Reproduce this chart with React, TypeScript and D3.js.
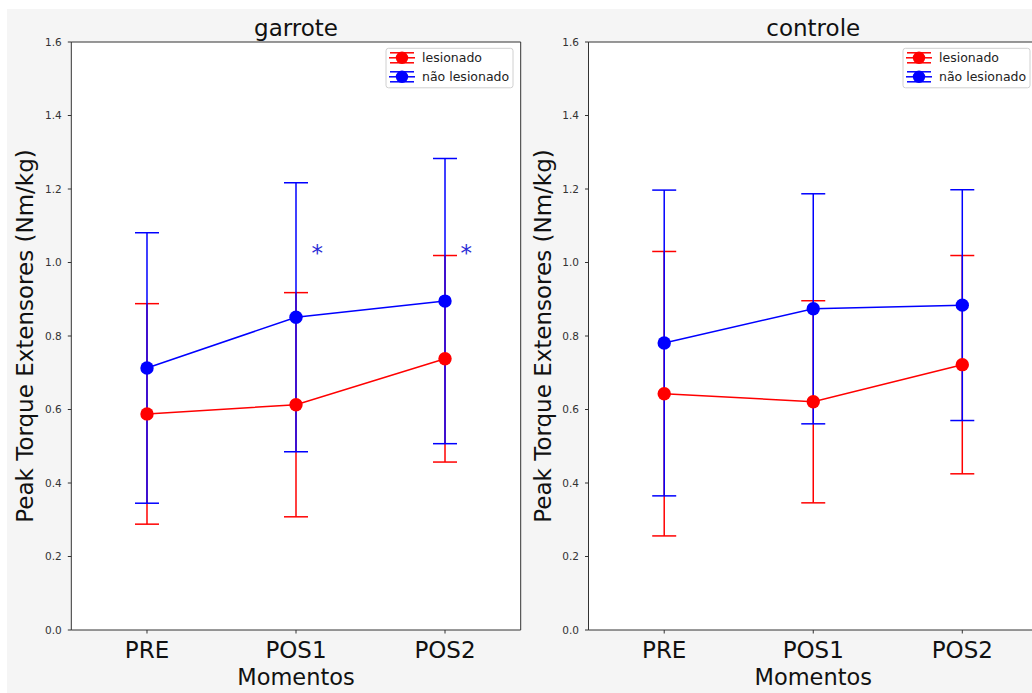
import React from "react";
import * as d3 from "d3";

const categories = ["PRE", "POS1", "POS2"];
const yTicks = [0, 0.2, 0.4, 0.6, 0.8, 1.0, 1.2, 1.4, 1.6];

const garroteLesionado = [0.588, 0.613, 0.738];
const garroteLesionadoErr = [0.3, 0.305, 0.281];
const garroteNaoLesionado = [0.713, 0.851, 0.895];
const garroteNaoLesionadoErr = [0.368, 0.366, 0.388];
const garroteSignificance = [false, true, true];

const controleLesionado = [0.643, 0.621, 0.722];
const controleLesionadoErr = [0.387, 0.275, 0.297];
const controleNaoLesionado = [0.781, 0.874, 0.884];
const controleNaoLesionadoErr = [0.416, 0.313, 0.314];
const controleSignificance = [false, false, false];

const seriesNames = ["lesionado", "não lesionado"];
const seriesColors = ["#ff0000", "#0000ff"];

const FONT = "DejaVu Sans, Verdana, sans-serif";

type Panel = {
  title: string;
  x0: number;
  x1: number;
  legendX: number;
  series: { mean: number[]; err: number[] }[];
  sig: boolean[];
};

const panels: Panel[] = [
  {
    title: "garrote",
    x0: 71.3,
    x1: 520.7,
    legendX: 386,
    series: [
      { mean: garroteLesionado, err: garroteLesionadoErr },
      { mean: garroteNaoLesionado, err: garroteNaoLesionadoErr },
    ],
    sig: garroteSignificance,
  },
  {
    title: "controle",
    x0: 588.5,
    x1: 1038,
    legendX: 903,
    series: [
      { mean: controleLesionado, err: controleLesionadoErr },
      { mean: controleNaoLesionado, err: controleNaoLesionadoErr },
    ],
    sig: controleSignificance,
  },
];

const Y0 = 42;
const Y1 = 630;
const CAP = 12;

function PanelView({ p }: { p: Panel }) {
  const x = d3.scaleLinear().domain([-0.508, 2.508]).range([p.x0, p.x1]);
  const y = d3.scaleLinear().domain([0, 1.6]).range([Y1, Y0]);
  const line = d3
    .line<number>()
    .x((_, i) => x(i))
    .y((d) => y(d));
  const cx = (p.x0 + p.x1) / 2;
  const midY = (Y0 + Y1) / 2;
  const lx = p.legendX;
  const ly = 48.3;
  const clipId = "clip-" + p.title;
  return (
    <g>
      <rect x={p.x0} y={Y0} width={p.x1 - p.x0} height={Y1 - Y0} fill="#ffffff" />
      {/* error bars */}
      {p.series.map((s, si) => (
        <g key={"e" + si} stroke={seriesColors[si]} strokeWidth={1.5} fill="none">
          {s.mean.map((m, i) => (
            <g key={i}>
              <line x1={x(i)} x2={x(i)} y1={y(m - s.err[i])} y2={y(m + s.err[i])} />
              <line x1={x(i) - CAP} x2={x(i) + CAP} y1={y(m + s.err[i])} y2={y(m + s.err[i])} />
              <line x1={x(i) - CAP} x2={x(i) + CAP} y1={y(m - s.err[i])} y2={y(m - s.err[i])} />
            </g>
          ))}
        </g>
      ))}
      {/* lines and markers */}
      {p.series.map((s, si) => (
        <g key={"l" + si}>
          <path d={line(s.mean) || ""} stroke={seriesColors[si]} strokeWidth={1.5} fill="none" />
          {s.mean.map((m, i) => (
            <circle key={i} cx={x(i)} cy={y(m)} r={6.7} fill={seriesColors[si]} />
          ))}
        </g>
      ))}
      {/* significance */}
      {p.sig.map((sg, i) =>
        sg ? (
          <text
            key={"s" + i}
            x={x(i + 0.142)}
            y={y(1.0) + 2}
            dy={-4}
            textAnchor="middle"
            fontFamily={FONT}
            fontSize={23}
            fill="#2b2bd6"
          >
            *
          </text>
        ) : null
      )}
      {/* frame */}
      <line x1={p.x0} x2={p.x1} y1={Y0} y2={Y0} stroke="#333" strokeWidth={1} />
      <line x1={p.x0} x2={p.x1} y1={Y1} y2={Y1} stroke="#333" strokeWidth={1} />
      <line x1={p.x0} x2={p.x0} y1={Y0} y2={Y1} stroke="#333" strokeWidth={1} />
      {p.x1 < 1030 ? (
        <line x1={p.x1} x2={p.x1} y1={Y0} y2={Y1} stroke="#333" strokeWidth={1} />
      ) : null}
      {/* y ticks */}
      {yTicks.map((t) => (
        <g key={t}>
          <line x1={p.x0 - 3.5} x2={p.x0} y1={y(t)} y2={y(t)} stroke="#333" strokeWidth={1} />
          <text
            x={p.x0 - 9.5}
            y={y(t)}
            dy="0.35em"
            textAnchor="end"
            fontFamily={FONT}
            fontSize={10.5}
            fill="#333"
          >
            {t.toFixed(1)}
          </text>
        </g>
      ))}
      {/* x ticks */}
      {categories.map((c, i) => (
        <g key={c}>
          <line x1={x(i)} x2={x(i)} y1={Y1} y2={Y1 + 3.5} stroke="#333" strokeWidth={1} />
          <text x={x(i)} y={658} textAnchor="middle" fontFamily={FONT} fontSize={23} fill="#111">
            {c}
          </text>
        </g>
      ))}
      <text x={cx} y={685} textAnchor="middle" fontFamily={FONT} fontSize={22.5} fill="#111">
        Momentos
      </text>
      <text
        transform={`translate(${p.x0 - 38},${midY}) rotate(-90)`}
        textAnchor="middle"
        fontFamily={FONT}
        fontSize={23}
        fill="#111"
      >
        Peak Torque Extensores (Nm/kg)
      </text>
      <text x={cx} y={35.7} textAnchor="middle" fontFamily={FONT} fontSize={23} fill="#111">
        {p.title}
      </text>
      {/* legend */}
      <g>
        <rect
          x={lx}
          y={ly}
          width={127}
          height={39.5}
          rx={2.5}
          fill="#ffffff"
          fillOpacity={0.85}
          stroke="#d0d0d0"
          strokeWidth={1}
        />
        {seriesNames.map((n, si) => {
          const ry = ly + 9.5 + si * 19;
          const hx = lx + 16;
          return (
            <g key={n}>
              <line x1={hx - 13} x2={hx + 13} y1={ry} y2={ry} stroke={seriesColors[si]} strokeWidth={1.5} />
              <line x1={hx - 12} x2={hx + 12} y1={ry - 5} y2={ry - 5} stroke={seriesColors[si]} strokeWidth={1.5} />
              <line x1={hx - 12} x2={hx + 12} y1={ry + 5} y2={ry + 5} stroke={seriesColors[si]} strokeWidth={1.5} />
              <line x1={hx} x2={hx} y1={ry - 5} y2={ry + 5} stroke={seriesColors[si]} strokeWidth={1.5} />
              <circle cx={hx} cy={ry} r={6.2} fill={seriesColors[si]} />
              <text
                x={lx + 36}
                y={ry}
                dy="0.35em"
                fontFamily={FONT}
                fontSize={12.5}
                fill="#222"
              >
                {n}
              </text>
            </g>
          );
        })}
      </g>
    </g>
  );
}

export default function App() {
  return (
    <svg
      width={1032}
      height={693}
      style={{ position: "absolute", left: 0, top: 0, display: "block" }}
    >
      <rect x={0} y={0} width={1032} height={693} fill="#ffffff" />
      <rect x={7} y={9} width={1025} height={684} fill="#f5f5f5" />
      {panels.map((p) => (
        <PanelView key={p.title} p={p} />
      ))}
    </svg>
  );
}
